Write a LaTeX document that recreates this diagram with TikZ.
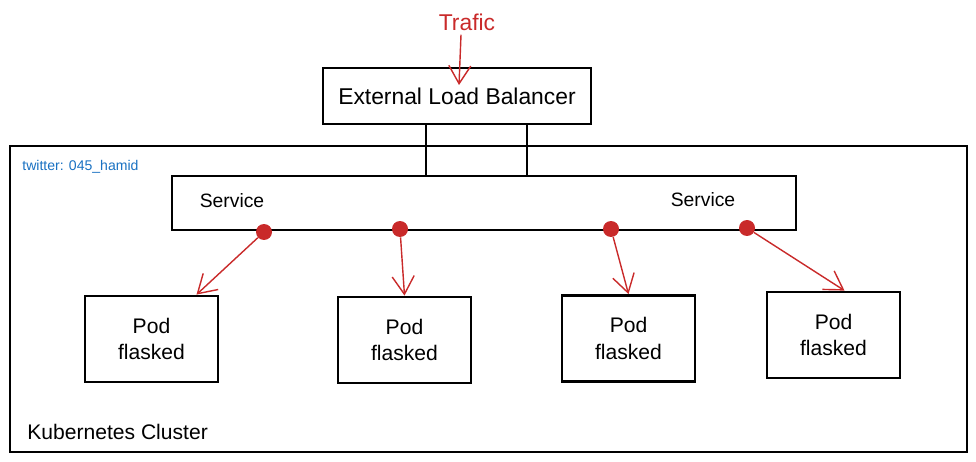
\documentclass[tikz,border=0pt]{standalone}
\usepackage{fontspec}
\setmainfont{Liberation Sans}
\usepackage{tikz}
\usetikzlibrary{positioning, arrows.meta}
\definecolor{sketchred}{RGB}{201,42,42}
\definecolor{sketchblue}{RGB}{25,113,194}

\begin{document}
\begin{tikzpicture}[x=0.02cm,y=-0.02cm]
		\tikzstyle{box} = [draw=black, line width=1.2pt, minimum width=5.36cm, minimum height=1.12cm, text centered, font=\fontsize{13}{15}\selectfont]
		\tikzstyle{podbox} = [draw=black, line width=1.6pt, minimum width=2.66cm, minimum height=1.72cm, align=center, font=\fontsize{12}{15}\selectfont]
		\tikzstyle{label} = [inner sep=0, font=\fontsize{12}{14}\selectfont]
		\tikzstyle{dot} = [shape=circle, fill=sketchred, minimum size=0.32cm, inner sep=0]
		\tikzstyle{redarrow} = [-{Straight Barb[length=3.6mm,width=4.4mm]}, sketchred, line width=0.8pt]
		\tikzstyle{link} = [line width=1.2pt, black]
		\useasboundingbox (0,0) rectangle (976,462);
		% cluster and service
		\node [draw=black, line width=1.4pt, minimum width=19.14cm, minimum height=6.12cm] (cluster) at (488.5,299) {};
		\node [draw=black, line width=1.2pt, minimum width=12.48cm, minimum height=1.08cm] (svc) at (484,203) {};
		\node [label, anchor=west, text=sketchblue, font=\fontsize{8}{10}\selectfont] (tw) at (22,167) {twitter: 045\_hamid};
		\node [label, anchor=west] (kc) at (27,432) {Kubernetes Cluster};
		\node [label, font=\fontsize{11}{13}\selectfont] (svcl) at (232,201) {Service};
		\node [label, font=\fontsize{11}{13}\selectfont] (svcr) at (703,200) {Service};
		% load balancer
		\node [box] (lb) at (457,96) {External Load Balancer};
		\draw [link] ([xshift=-0.62cm]lb.south) -- ([xshift=-0.62cm]lb.south |- svc.north);
		\draw [link] ([xshift=1.4cm]lb.south) -- ([xshift=1.4cm]lb.south |- svc.north);
		\node [label, text=sketchred, font=\fontsize{13}{15}\selectfont] (traffic) at (467,22) {Trafic};
		\coordinate (lbin) at (459,85);
		\draw [redarrow] (traffic.south) ++(-6,4) coordinate (tr) -- (lbin);
		% pods
		\node [podbox] (p1) at (151.5,339) {Pod\\flasked};
		\node [podbox] (p2) at (404.5,340) {Pod\\flasked};
		\node [podbox] (p3) at (628.5,338.5) {Pod\\flasked};
		\node [podbox] (p4) at (833.5,335) {Pod\\flasked};
		\node [dot] (d1) at (264,232) {};
		\node [dot] (d2) at (400,229) {};
		\node [dot] (d3) at (611,229) {};
		\node [dot] (d4) at (747,228) {};
		\draw [redarrow] (d1) -- ([xshift=0.9cm]p1.north);
		\draw [redarrow] (d2) -- (p2.north);
		\draw [redarrow] (d3) -- (p3.north);
		\draw [redarrow] (d4) -- ([xshift=0.22cm]p4.north);
\end{tikzpicture}
\end{document}
